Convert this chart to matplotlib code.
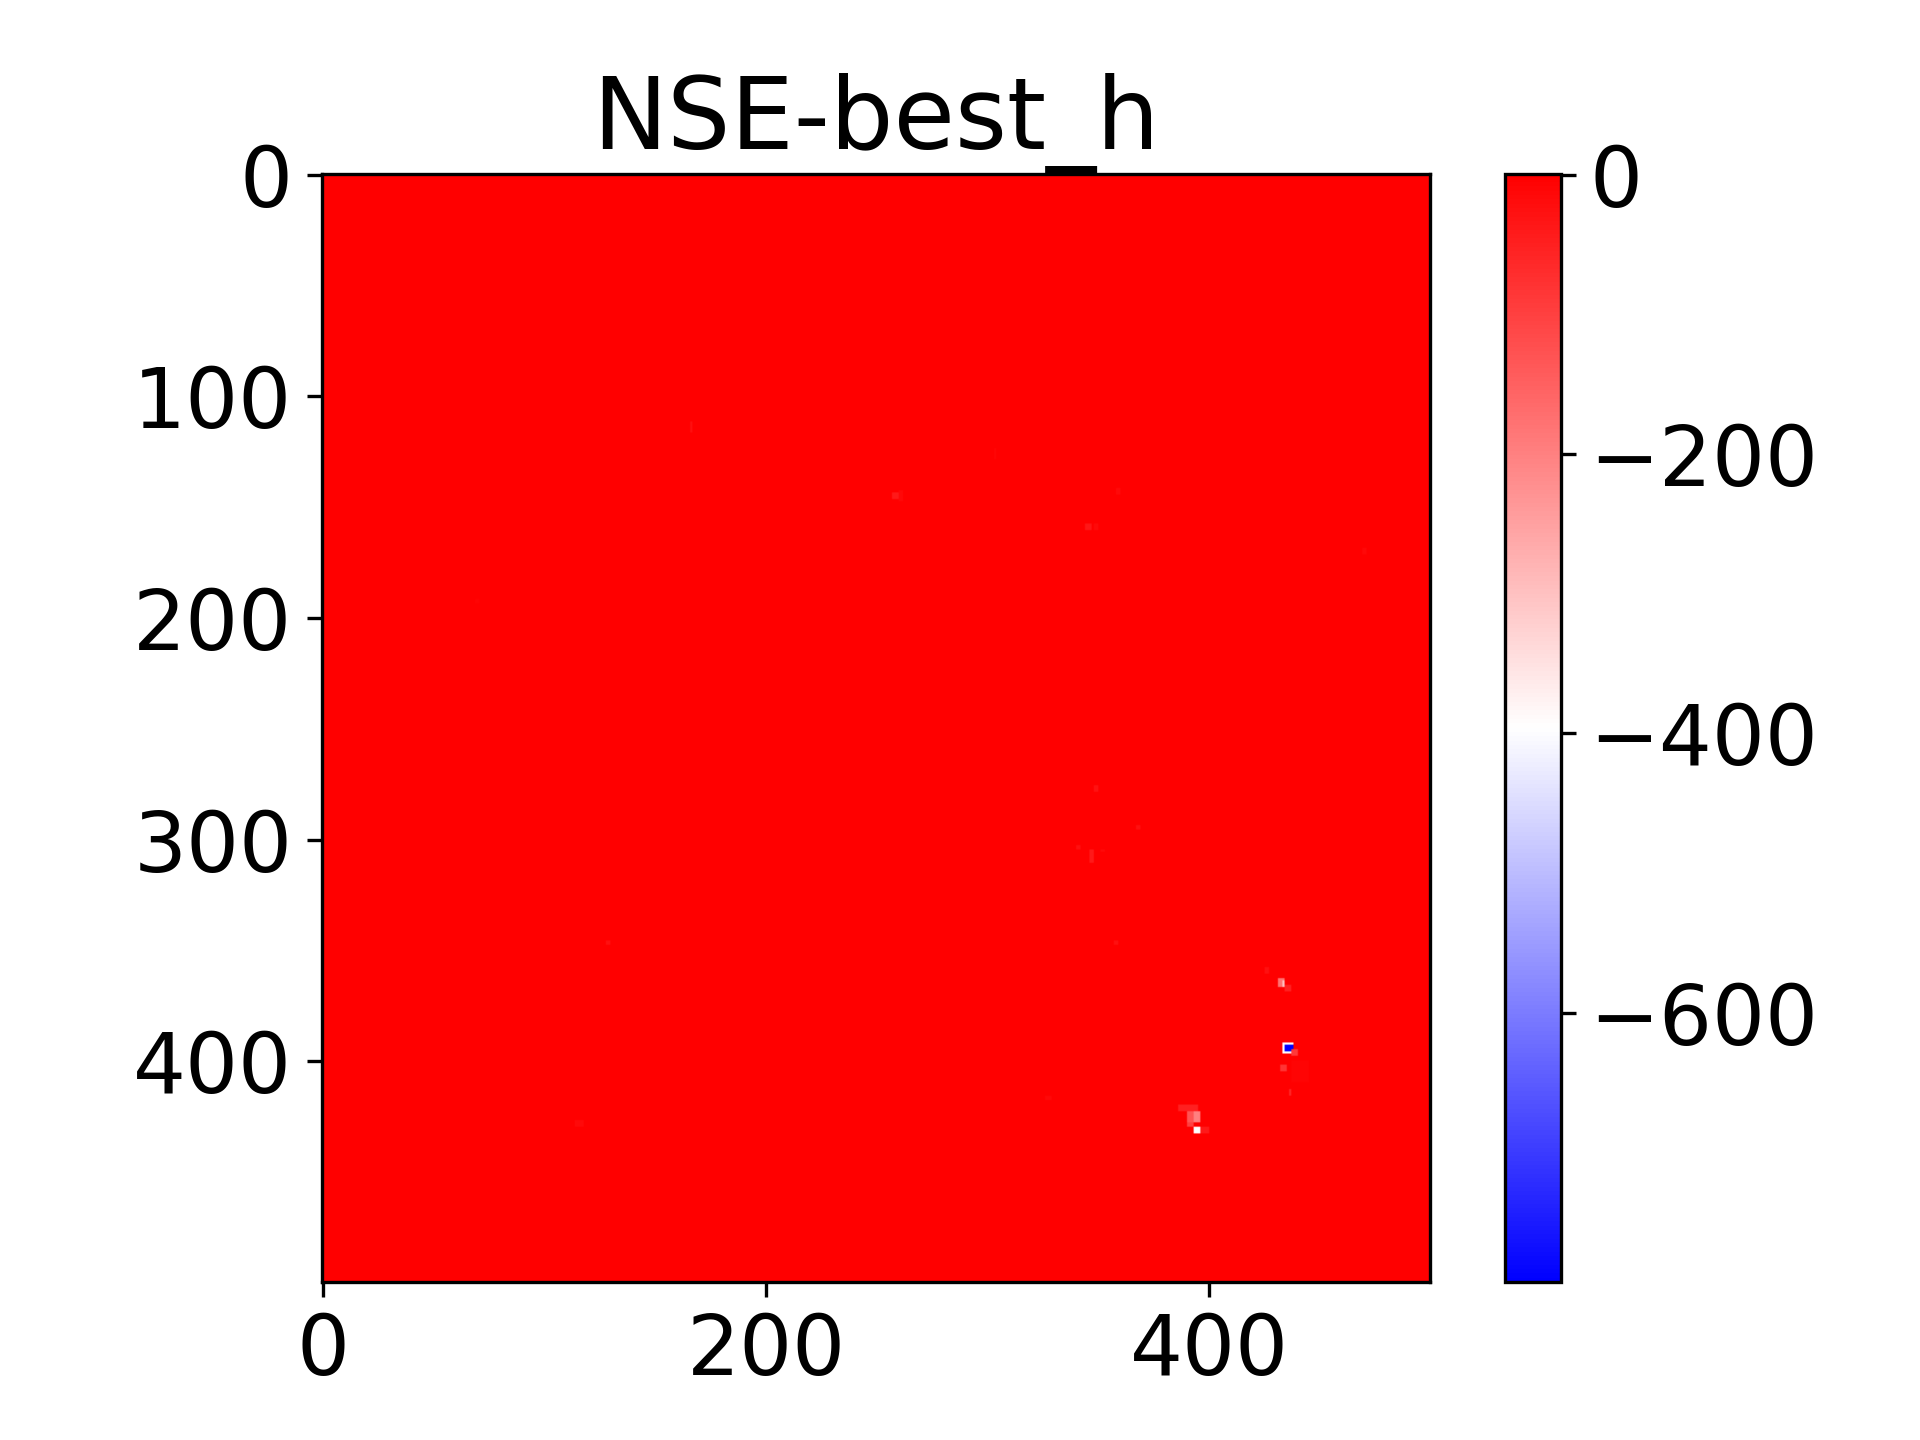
import matplotlib
matplotlib.use('Agg')
import matplotlib.pyplot as plt
import numpy as np

# NSE map, 500 x 500 grid, nearly everything sits at the top of the scale
grid_size = 500
nse_background = 0.5
nse_min = -793
nse_max = 1

# patches that stand out from the background: row range, column range, value
row_start = [430, 430, 423, 423, 428, 420, 363, 364, 366, 358, 392, 393, 395, 402, 413, 400,
             112, 144, 143, 158, 158, 124, 142, 276, 294, 303, 305, 305, 346, 346, 427, 416, 169, 192]
row_end = [433, 433, 428, 428, 430, 423, 367, 367, 369, 361, 397, 396, 398, 405, 416, 410,
           117, 147, 148, 161, 161, 129, 145, 279, 296, 305, 311, 306, 348, 348, 430, 418, 172, 194]
col_start = [393, 396, 390, 393, 390, 386, 431, 433, 434, 425, 433, 434, 437, 432, 436, 437,
             166, 257, 260, 344, 348, 303, 358, 348, 367, 340, 346, 351, 128, 357, 114, 326, 469, 69]
col_end = [396, 400, 393, 396, 393, 395, 434, 434, 437, 427, 438, 438, 440, 435, 437, 445,
           167, 260, 262, 347, 350, 304, 360, 350, 369, 342, 348, 353, 130, 359, 118, 329, 471, 71]
patch_value = [-395, -40, -130, -200, -100, -50, -180, -300, -50, -25, -400, -790, -90, -80, -60, -7,
               -25, -40, -12, -35, -15, -10, -15, -30, -25, -25, -40, -15, -25, -25, -15, -12, -12, -6]

x_ticks = [0, 200, 400]
y_ticks = [0, 100, 200, 300, 400]
bar_ticks = [0, -200, -400, -600]


def build_grid():
    nse = np.full((grid_size, grid_size), nse_background)
    for i in range(len(patch_value)):
        nse[row_start[i]:row_end[i], col_start[i]:col_end[i]] = patch_value[i]
    return nse


def main():
    fig = plt.figure(figsize=(6.4, 4.8), dpi=300)
    ax = fig.add_axes([321.5 / 1920, 1 - 1282 / 1440, 1108.5 / 1920, 1108.5 / 1440])
    cax = fig.add_axes([1505 / 1920, 1 - 1282 / 1440, 55.5 / 1920, 1108.5 / 1440])

    im = ax.imshow(build_grid(), cmap='bwr', vmin=nse_min, vmax=nse_max)
    # pad tuned so the underscore bar sits on the top spine
    ax.set_title('NSE-best_h', fontsize=24, pad=5.88)
    ax.set_xticks(x_ticks)
    ax.set_yticks(y_ticks)
    ax.tick_params(labelsize=20)

    cbar = fig.colorbar(im, cax=cax)
    cbar.set_ticks(bar_ticks)
    cbar.ax.tick_params(labelsize=20)

    fig.savefig('out.png', dpi=300)


if __name__ == "__main__":
    main()
